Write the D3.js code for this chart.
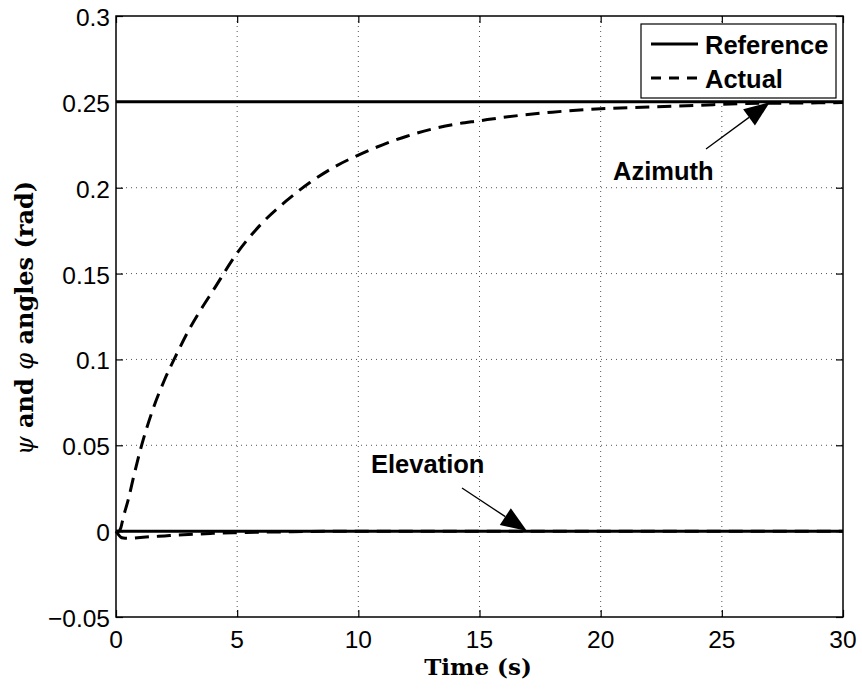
<!DOCTYPE html>
<html><head><meta charset="utf-8">
<script src="https://cdn.jsdelivr.net/npm/d3@7"></script>
<style>body{margin:0;background:#fff}svg{display:block}</style>
</head><body>
<svg id="c" width="862" height="689"></svg>
<script>
const xTicks = [0,5,10,15,20,25,30];
const yTicks = [-0.05,0,0.05,0.1,0.15,0.2,0.25,0.3];
const yTickLabels = ["\u22120.05","0","0.05","0.1","0.15","0.2","0.25","0.3"];
const refTime = [0,30];
const refAzimuth = [0.25,0.25];
const refElevation = [0,0];
const actTime = [0,0.1,0.2,0.3,0.5,0.75,1,1.5,2,2.5,3,3.5,4,5,6,7,8,9,10,11,12,13,14,15,16,18,20,22,24,26,28,30];
const actAzimuth = [0,0,0.002,0.008,0.018,0.033,0.047,0.07,0.088,0.103,0.117,0.129,0.14,0.162,0.179,0.192,0.203,0.212,0.219,0.225,0.23,0.234,0.237,0.239,0.241,0.244,0.246,0.247,0.248,0.249,0.2493,0.2496];
const actElevation = [0,-0.002,-0.0035,-0.004,-0.0042,-0.004,-0.0037,-0.0032,-0.0028,-0.0023,-0.002,-0.0016,-0.0013,-0.0009,-0.0006,-0.0004,-0.0002,-0.0001,0,0,0,0,0,0,0,0,0,0,0,0,0,0];
const legendLabels = ["Reference","Actual"];

const svg = d3.select("#c");
const L=116,R=843,T=16,B=617;
const x = d3.scaleLinear().domain([0,30]).range([L,R]);
const y = d3.scaleLinear().domain([-0.05,0.3]).range([B,T]);

// grid
const g = svg.append("g");
xTicks.slice(1,-1).forEach(t=>{
  g.append("line").attr("x1",x(t)).attr("x2",x(t)).attr("y1",T).attr("y2",B)
   .attr("stroke","#555").attr("stroke-width",1).attr("stroke-dasharray","1,4");
});
yTicks.slice(1,-1).forEach(t=>{
  g.append("line").attr("x1",L).attr("x2",R).attr("y1",y(t)).attr("y2",y(t))
   .attr("stroke","#555").attr("stroke-width",1).attr("stroke-dasharray","1,4");
});

// axes with inner ticks
const axB = d3.axisBottom(x).tickValues(xTicks).tickSize(-7).tickFormat("");
const axT = d3.axisTop(x).tickValues(xTicks).tickSize(-7).tickFormat("");
const axL = d3.axisLeft(y).tickValues(yTicks).tickSize(-7).tickFormat("");
const axR = d3.axisRight(y).tickValues(yTicks).tickSize(-7).tickFormat("");
[[axB,`translate(0,${B})`],[axT,`translate(0,${T})`],[axL,`translate(${L},0)`],[axR,`translate(${R},0)`]].forEach(([a,tr])=>{
  const gg = svg.append("g").attr("transform",tr).call(a);
  gg.selectAll("path").remove();
  gg.selectAll("line").attr("stroke","#000").attr("stroke-width",1.2);
});
svg.append("rect").attr("x",L).attr("y",T).attr("width",R-L).attr("height",B-T)
  .attr("fill","none").attr("stroke","#000").attr("stroke-width",1.5);

// tick labels
const font = "Liberation Sans, Arial, Helvetica, sans-serif";
svg.append("g").selectAll("text").data(xTicks).join("text")
  .attr("x",d=>x(d)).attr("y",648).attr("text-anchor","middle")
  .attr("font-family",font).attr("font-size",24.5).text(d=>d);
svg.append("g").selectAll("text").data(yTicks).join("text")
  .attr("x",110).attr("y",d=>y(d)+10).attr("text-anchor","end")
  .attr("font-family",font).attr("font-size",24.5).text((d,i)=>yTickLabels[i]);

// lines
const line = d3.line().x(d=>x(d[0])).y(d=>y(d[1]));
const plot = svg.append("g");
plot.append("path").datum(refTime.map((t,i)=>[t,refAzimuth[i]])).attr("d",line)
  .attr("fill","none").attr("stroke","#000").attr("stroke-width",3);
plot.append("path").datum(refTime.map((t,i)=>[t,refElevation[i]])).attr("d",line)
  .attr("fill","none").attr("stroke","#000").attr("stroke-width",3);
const cl = d3.line().x(d=>x(d[0])).y(d=>y(d[1])).curve(d3.curveMonotoneX);
plot.append("path").datum(actTime.map((t,i)=>[t,actAzimuth[i]])).attr("d",cl)
  .attr("fill","none").attr("stroke","#000").attr("stroke-width",3).attr("stroke-dasharray","14,8");
plot.append("path").datum(actTime.map((t,i)=>[t,actElevation[i]])).attr("d",cl)
  .attr("fill","none").attr("stroke","#000").attr("stroke-width",3).attr("stroke-dasharray","14,8");

// legend
const lg = svg.append("g");
lg.append("rect").attr("x",641).attr("y",24).attr("width",195).attr("height",74)
  .attr("fill","#fff").attr("stroke","#000").attr("stroke-width",1.2);
[0,1].forEach(i=>{
  const yy = 44 + i*34;
  lg.append("line").attr("x1",651).attr("x2",698).attr("y1",yy).attr("y2",yy)
    .attr("stroke","#000").attr("stroke-width",3).attr("stroke-dasharray",i?"10,8":null);
  lg.append("text").attr("x",705).attr("y",yy+10).attr("font-family",font)
    .attr("font-weight","bold").attr("font-size",25.5).text(legendLabels[i]);
});

// annotations
function arrow(x1,y1,x2,y2){
  const ang = Math.atan2(y2-y1,x2-x1), hl=26, hw=10;
  const bx = x2-hl*Math.cos(ang), by = y2-hl*Math.sin(ang);
  svg.append("line").attr("x1",x1).attr("y1",y1).attr("x2",bx).attr("y2",by)
    .attr("stroke","#000").attr("stroke-width",1.3);
  const px=-Math.sin(ang)*hw, py=Math.cos(ang)*hw;
  svg.append("path").attr("d",`M${x2},${y2}L${bx+px},${by+py}L${bx-px},${by-py}Z`).attr("fill","#000");
}
arrow(706,149,770,102);
arrow(462,488,527,531);
svg.append("text").attr("x",613).attr("y",180).attr("font-family",font)
  .attr("font-weight","bold").attr("font-size",25.5).text("Azimuth");
svg.append("text").attr("x",371).attr("y",473).attr("font-family",font)
  .attr("font-weight","bold").attr("font-size",25.5).text("Elevation");

// axis labels
const serif = "DejaVu Serif, Liberation Serif, serif";
svg.append("text").attr("x",478).attr("y",675).attr("text-anchor","middle")
  .attr("font-family",serif).attr("font-weight","bold").attr("font-size",23).text("Time (s)");
const yl = svg.append("text").attr("transform","translate(33,318) rotate(-90)").attr("text-anchor","middle")
  .attr("font-family",serif).attr("font-weight","bold").attr("font-size",24);
yl.append("tspan").attr("font-style","italic").attr("font-weight","normal").text("\u03C8");
yl.append("tspan").text(" and ");
yl.append("tspan").attr("font-style","italic").attr("font-weight","normal").text("\u03C6");
yl.append("tspan").text(" angles (rad)");
</script>
</body></html>
